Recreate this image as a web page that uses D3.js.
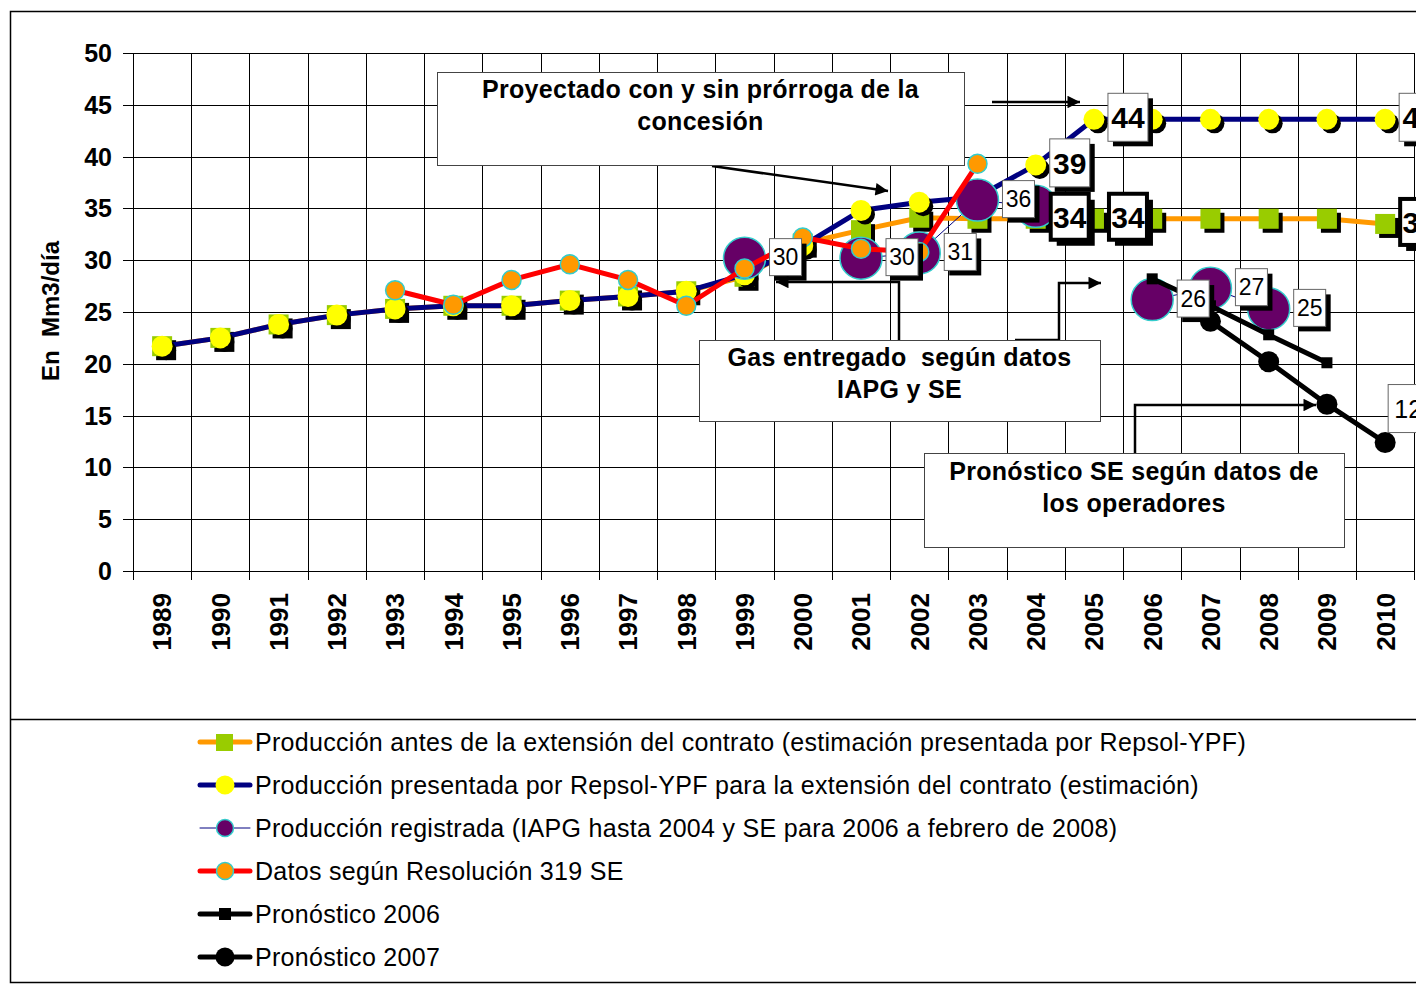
<!DOCTYPE html>
<html lang="es">
<head>
<meta charset="UTF-8">
<title>Producción de gas</title>
<style>
    body { margin: 0; background: #fff; }
    svg { display: block; font-family: "Liberation Sans", Arial, sans-serif; }
    svg text { white-space: pre; }
    .grid line { stroke: #000; stroke-width: 1; }
    .ytick { font-size: 25px; font-weight: bold; }
    .xtick { font-size: 26px; font-weight: bold; }
    .legend text { font-size: 25px; letter-spacing: 0.3px; }
    .note text { font-size: 25px; font-weight: bold; letter-spacing: 0.3px; }
</style>
</head>
<body>
<script src="https://d3js.org/d3.v7.min.js"></script>
<script>
    // categories
    var years = [1989, 1990, 1991, 1992, 1993, 1994, 1995, 1996, 1997, 1998, 1999,
                 2000, 2001, 2002, 2003, 2004, 2005, 2006, 2007, 2008, 2009, 2010];

    // series (Mm3/día), null = no value
    var prodAntes = [21.7, 22.5, 23.8, 24.7, 25.3, 25.6, 25.6, 26.1, 26.5, 27.0, 28.4,
                     31.6, 32.9, 34.1, 34.0, 34.0, 34.0, 34.0, 34.0, 34.0, 34.0, 33.5];
    var prodPresentada = [21.7, 22.5, 23.8, 24.7, 25.3, 25.6, 25.6, 26.1, 26.5, 27.0, 28.6,
                          31.4, 34.8, 35.6, 36.1, 39.2, 43.6, 43.6, 43.6, 43.6, 43.6, 43.6];
    var prodRegistrada = [null, null, null, null, null, null, null, null, null, null, 30.2,
                          null, 30.2, 30.7, 35.8, 35.2, null, 26.2, 27.3, 25.3, null, null];
    var datos319 = [null, null, null, null, 27.1, 25.7, 28.1, 29.6, 28.1, 25.6, 29.2,
                    32.2, 31.1, 30.8, 39.3, null, null, null, null, null, null, null];
    var pron2006 = [null, null, null, null, null, null, null, null, null, null, null,
                    null, null, null, null, null, null, 28.2, 25.6, 22.8, 20.1, null];
    var pron2007 = [null, null, null, null, null, null, null, null, null, null, null,
                    null, null, null, null, null, null, null, 24.1, 20.2, 16.1, 12.4];

    var yTicks = [0, 5, 10, 15, 20, 25, 30, 35, 40, 45, 50];

    var legendNames = [
        "Producción antes de la extensión del contrato (estimación presentada por Repsol-YPF)",
        "Producción presentada por Repsol-YPF para la extensión del contrato (estimación)",
        "Producción registrada (IAPG hasta 2004 y SE para 2006 a febrero de 2008)",
        "Datos según Resolución 319 SE",
        "Pronóstico 2006",
        "Pronóstico 2007"
    ];

    // which points carry a value label
    var labelYearsAntes = [2004, 2005, 2010];
    var labelYearsPresentada = [2004, 2005, 2010];
    var labelYearsRegistrada = [1999, 2001, 2002, 2003, 2006, 2007, 2008];
    var labelYears2007 = [2010];

    var W = 1416, H = 984;
    var svg = d3.select("body").append("svg")
        .attr("width", W).attr("height", H);

    var x = d3.scaleBand().domain(years).range([133, 133 + 22 * 58.24]).padding(0);
    var y = d3.scaleLinear().domain([0, 50]).range([571, 53]);
    var cx = function(yr) { return x(yr) + x.bandwidth() / 2; };

    // outer frame and legend divider
    svg.append("rect").attr("x", 10.5).attr("y", 11.5).attr("width", 1430).attr("height", 971)
        .attr("fill", "none").attr("stroke", "#000").attr("stroke-width", 1.5);
    svg.append("line").attr("x1", 10).attr("x2", W).attr("y1", 719.5).attr("y2", 719.5)
        .attr("stroke", "#000").attr("stroke-width", 1.5);

    // grid
    var grid = svg.append("g").attr("class", "grid");
    grid.selectAll(".h").data(yTicks).enter().append("line")
        .attr("x1", 123).attr("x2", x.range()[1])
        .attr("y1", function(d) { return Math.round(y(d)) + 0.5; })
        .attr("y2", function(d) { return Math.round(y(d)) + 0.5; });
    var bounds = years.map(function(d) { return x(d); }).concat([x.range()[1]]);
    grid.selectAll(".v").data(bounds).enter().append("line")
        .attr("x1", function(d) { return Math.round(d) + 0.5; })
        .attr("x2", function(d) { return Math.round(d) + 0.5; })
        .attr("y1", 53).attr("y2", 580);
    grid.append("line").attr("x1", 133.5).attr("x2", 133.5).attr("y1", 53).attr("y2", 580)
        .attr("stroke-width", 2);
    grid.append("line").attr("x1", 123).attr("x2", x.range()[1]).attr("y1", 571.5).attr("y2", 571.5)
        .attr("stroke-width", 2);

    // axis labels
    svg.selectAll(".ytick").data(yTicks).enter().append("text")
        .attr("class", "ytick")
        .attr("x", 112).attr("y", function(d) { return y(d); })
        .attr("dy", "0.36em").attr("text-anchor", "end")
        .text(function(d) { return d; });
    svg.selectAll(".xtick").data(years).enter().append("text")
        .attr("class", "xtick")
        .attr("transform", function(d) { return "translate(" + cx(d) + ",593) rotate(-90)"; })
        .attr("dy", "0.36em").attr("text-anchor", "end")
        .text(function(d) { return d; });
    svg.append("text")
        .attr("transform", "translate(50,311) rotate(-90)")
        .attr("dy", "0.36em").attr("text-anchor", "middle")
        .style("font-size", "24px").style("font-weight", "bold")
        .text("En  Mm3/día");

    function pts(arr) {
        return years.map(function(yr, i) { return {year: yr, v: arr[i]}; })
            .filter(function(d) { return d.v != null; });
    }
    var line = d3.line()
        .defined(function(d) { return d.v != null; })
        .x(function(d) { return cx(d.year); })
        .y(function(d) { return y(d.v); });
    function full(arr) {
        return years.map(function(yr, i) { return {year: yr, v: arr[i]}; });
    }

    var plot = svg.append("g");

    // A: producción antes de la extensión
    plot.append("path").datum(full(prodAntes)).attr("d", line)
        .attr("fill", "none").attr("stroke", "#ff9900").attr("stroke-width", 5);
    var gA = plot.append("g");
    gA.selectAll(".sh").data(pts(prodAntes)).enter().append("rect")
        .attr("x", function(d) { return cx(d.year) - 10 + 4; })
        .attr("y", function(d) { return y(d.v) - 10 + 4; })
        .attr("width", 20).attr("height", 20).attr("fill", "#000");
    gA.selectAll(".m").data(pts(prodAntes)).enter().append("rect")
        .attr("x", function(d) { return cx(d.year) - 10; })
        .attr("y", function(d) { return y(d.v) - 10; })
        .attr("width", 20).attr("height", 20).attr("fill", "#99cc00");

    // B: producción presentada
    plot.append("path").datum(full(prodPresentada)).attr("d", line)
        .attr("fill", "none").attr("stroke", "#000080").attr("stroke-width", 5);
    var gB = plot.append("g");
    gB.selectAll(".sh").data(pts(prodPresentada)).enter().append("circle")
        .attr("cx", function(d) { return cx(d.year) + 4; })
        .attr("cy", function(d) { return y(d.v) + 4; })
        .attr("r", 10).attr("fill", "#000");
    gB.selectAll(".m").data(pts(prodPresentada)).enter().append("circle")
        .attr("cx", function(d) { return cx(d.year); })
        .attr("cy", function(d) { return y(d.v); })
        .attr("r", 10.5).attr("fill", "#ffff00");

    // C: producción registrada
    plot.append("path").datum(full(prodRegistrada)).attr("d", line)
        .attr("fill", "none").attr("stroke", "#000080").attr("stroke-width", 1);
    plot.selectAll(".regC").data(pts(prodRegistrada)).enter().append("circle")
        .attr("cx", function(d) { return cx(d.year); })
        .attr("cy", function(d) { return y(d.v); })
        .attr("r", 21).attr("fill", "#660066")
        .attr("stroke", "#33cccc").attr("stroke-width", 1.5);

    // D: datos según resolución 319
    plot.append("path").datum(full(datos319)).attr("d", line)
        .attr("fill", "none").attr("stroke", "#ff0000").attr("stroke-width", 5);
    plot.selectAll(".resD").data(pts(datos319)).enter().append("circle")
        .attr("cx", function(d) { return cx(d.year); })
        .attr("cy", function(d) { return y(d.v); })
        .attr("r", 9.5).attr("fill", "#ff9900")
        .attr("stroke", "#33cccc").attr("stroke-width", 1.5);

    // E: pronóstico 2006
    plot.append("path").datum(full(pron2006)).attr("d", line)
        .attr("fill", "none").attr("stroke", "#000").attr("stroke-width", 5);
    plot.selectAll(".p06").data(pts(pron2006)).enter().append("rect")
        .attr("x", function(d) { return cx(d.year) - 5.5; })
        .attr("y", function(d) { return y(d.v) - 5.5; })
        .attr("width", 11).attr("height", 11).attr("fill", "#000");

    // F: pronóstico 2007
    plot.append("path").datum(full(pron2007)).attr("d", line)
        .attr("fill", "none").attr("stroke", "#000").attr("stroke-width", 5);
    plot.selectAll(".p07").data(pts(pron2007)).enter().append("circle")
        .attr("cx", function(d) { return cx(d.year); })
        .attr("cy", function(d) { return y(d.v); })
        .attr("r", 10.5).attr("fill", "#000");

    // value labels
    function valueLabels(arr, yrs, opt) {
        var g = svg.append("g");
        yrs.forEach(function(yr) {
            var v = arr[years.indexOf(yr)];
            var lx = cx(yr) + opt.dx, ly = y(v) + opt.dy;
            var bx = lx - opt.w / 2, by = ly - opt.h / 2;
            if (opt.shadow) {
                g.append("rect").attr("x", bx + opt.shadow).attr("y", by + opt.shadow)
                    .attr("width", opt.w).attr("height", opt.h).attr("fill", "#000");
            }
            g.append("rect").attr("x", bx).attr("y", by)
                .attr("width", opt.w).attr("height", opt.h)
                .attr("fill", "#fff").attr("stroke", opt.border)
                .attr("stroke-width", opt.bw);
            g.append("text").attr("x", lx).attr("y", ly).attr("dy", "0.36em")
                .attr("text-anchor", "middle")
                .style("font-size", opt.fs + "px").style("font-weight", opt.fw)
                .text(Math.round(v));
        });
    }
    valueLabels(prodAntes, labelYearsAntes,
        {dx: 34, dy: -2, w: 38, h: 46, border: "#000", bw: 4, shadow: 6, fs: 30, fw: "bold"});
    valueLabels(prodPresentada, labelYearsPresentada,
        {dx: 34, dy: -2, w: 40, h: 48, border: "#666", bw: 1, shadow: 5, fs: 30, fw: "bold"});
    valueLabels(prodRegistrada, labelYearsRegistrada,
        {dx: 41, dy: -1, w: 32, h: 37, border: "#666", bw: 1, shadow: 5, fs: 23, fw: "normal"});
    valueLabels(pron2007, labelYears2007,
        {dx: 23, dy: -34, w: 40, h: 48, border: "#666", bw: 1, shadow: 0, fs: 25, fw: "normal"});

    // annotations
    var defs = svg.append("defs");
    defs.append("marker").attr("id", "arr").attr("viewBox", "0 0 10 10")
        .attr("refX", 10).attr("refY", 5).attr("markerWidth", 6).attr("markerHeight", 5)
        .attr("markerUnits", "strokeWidth").attr("orient", "auto")
        .append("path").attr("d", "M0,0 L10,5 L0,10 z").attr("fill", "#000");

    var notes = [
        {x: 437, y: 72, w: 527, h: 93, lines: ["Proyectado con y sin prórroga de la", "concesión"], ty: 89},
        {x: 699, y: 340, w: 401, h: 81, lines: ["Gas entregado  según datos", "IAPG y SE"], ty: 357},
        {x: 924, y: 453, w: 420, h: 94, lines: ["Pronóstico SE según datos de", "los operadores"], ty: 471}
    ];
    var connectors = [
        [[712, 166], [888, 191]],
        [[992, 102], [1080, 102]],
        [[899, 340], [899, 282], [776, 282]],
        [[1015, 340], [1059, 340], [1059, 283], [1101, 283]],
        [[1135, 453], [1135, 405], [1316, 405]]
    ];
    var ng = svg.append("g").attr("class", "note");
    ng.selectAll("path").data(connectors).enter().append("path")
        .attr("d", function(d) { return d3.line()(d); })
        .attr("fill", "none").attr("stroke", "#000").attr("stroke-width", 2.5)
        .attr("marker-end", "url(#arr)");
    notes.forEach(function(n) {
        ng.append("rect").attr("x", n.x + 0.5).attr("y", n.y + 0.5).attr("width", n.w).attr("height", n.h)
            .attr("fill", "#fff").attr("stroke", "#444").attr("stroke-width", 1);
        n.lines.forEach(function(t, i) {
            ng.append("text").attr("x", n.x + n.w / 2).attr("y", n.ty + i * 32)
                .attr("dy", "0.36em").attr("text-anchor", "middle").text(t);
        });
    });

    // legend
    var lg = svg.append("g").attr("class", "legend");
    var rowY = function(i) { return 742 + i * 43; };
    var lineStyle = [
        {stroke: "#ff9900", w: 5}, {stroke: "#000080", w: 5}, {stroke: "#000080", w: 1},
        {stroke: "#ff0000", w: 5}, {stroke: "#000", w: 5}, {stroke: "#000", w: 5}
    ];
    legendNames.forEach(function(name, i) {
        var ly = rowY(i);
        lg.append("line").attr("x1", 200).attr("x2", 250).attr("y1", ly).attr("y2", ly)
            .attr("stroke", lineStyle[i].stroke).attr("stroke-width", lineStyle[i].w)
            .attr("stroke-linecap", "round");
        if (i === 0) {
            lg.append("rect").attr("x", 216).attr("y", ly - 8).attr("width", 17).attr("height", 17)
                .attr("fill", "#99cc00");
        } else if (i === 1) {
            lg.append("circle").attr("cx", 225).attr("cy", ly).attr("r", 9.5).attr("fill", "#ffff00");
        } else if (i === 2) {
            lg.append("circle").attr("cx", 225).attr("cy", ly).attr("r", 8.5).attr("fill", "#660066")
                .attr("stroke", "#33cccc").attr("stroke-width", 1.5);
        } else if (i === 3) {
            lg.append("circle").attr("cx", 225).attr("cy", ly).attr("r", 8.5).attr("fill", "#ff9900")
                .attr("stroke", "#33cccc").attr("stroke-width", 1.5);
        } else if (i === 4) {
            lg.append("rect").attr("x", 219).attr("y", ly - 6).attr("width", 12).attr("height", 12)
                .attr("fill", "#000");
        } else {
            lg.append("circle").attr("cx", 225).attr("cy", ly).attr("r", 9.5).attr("fill", "#000");
        }
        lg.append("text").attr("x", 255).attr("y", ly).attr("dy", "0.36em").text(name);
    });
</script>
</body>
</html>
